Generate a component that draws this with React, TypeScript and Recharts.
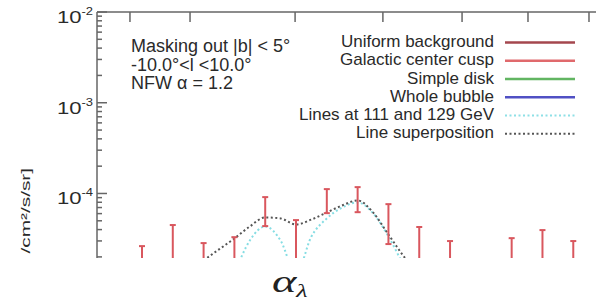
import { ComposedChart, Line, Scatter, ErrorBar, XAxis, YAxis } from "recharts";

// energy bins (bin index) and the flux band of each error bar
const binK = [1, 2, 3, 4, 5, 6, 7, 8, 9, 10, 11, 12, 13, 14, 15];
const binHigh = [2.63e-5, 4.49e-5, 2.84e-5, 3.3e-5, 9.12e-5, 5.09e-5, 1.117e-4, 1.175e-4, 7.63e-5, 4.27e-5, 2.99e-5, 1.6e-5, 3.22e-5, 3.95e-5, 2.99e-5];
const binLow = [1.2e-5, 1.6e-5, 1.2e-5, 1.5e-5, 4.37e-5, 1.8e-5, 6.07e-5, 6.22e-5, 2.77e-5, 1.5e-5, 1.2e-5, 6e-6, 1.2e-5, 1.4e-5, 1.1e-5];

// line superposition (dark dotted)
const superK = [3, 3.5, 4, 4.5, 5, 5.5, 6, 6.5, 7, 7.5, 8, 8.5, 9, 9.5, 10];
const superV = [1.83e-5, 2.42e-5, 3.19e-5, 4.33e-5, 5.44e-5, 5.31e-5, 4.55e-5, 5.16e-5, 6.18e-5, 7.38e-5, 8.38e-5, 6.18e-5, 3.53e-5, 2.02e-5, 1.25e-5];

// lines at 111 and 129 GeV (cyan dotted)
const linesK = [4, 4.5, 5, 5.5, 6, 6.5, 7, 7.5, 8, 8.5, 9, 9.5, 10];
const linesV = [1.3e-5, 3.03e-5, 4.33e-5, 3.03e-5, 1.3e-5, 3.36e-5, 5.31e-5, 7.01e-5, 7.96e-5, 6.06e-5, 3.36e-5, 1.6e-5, 8e-6];

const yTicks = [1e-2, 9e-3, 8e-3, 7e-3, 6e-3, 5e-3, 4e-3, 3e-3, 2e-3, 1e-3, 9e-4, 8e-4, 7e-4, 6e-4, 5e-4, 4e-4, 3e-4, 2e-4, 1e-4, 9e-5, 8e-5, 7e-5, 6e-5, 5e-5, 4e-5, 3e-5, 2e-5];
const topTicks = [0.61, 2.56, 5.97, 8.82, 11.39, 13.53, 15.51];

const notes = ["Masking out |b| < 5°", "-10.0°<l <10.0°", "NFW α = 1.2"];
const legendNames = ["Uniform background", "Galactic center cusp", "Simple disk", "Whole bubble", "Lines at 111 and 129 GeV", "Line superposition"];
const legendColors = ["#a4474e", "#e0696c", "#62b562", "#5050c4", "#8ee0e6", "#555555"];
const legendDotted = [false, false, false, false, true, true];

const axisColor = "#666";
const font = "'Liberation Sans', Arial, sans-serif";

const binData = binK.map((k, i) => {
    const v = Math.sqrt(binLow[i] * binHigh[i]);
    return { k, v, err: [v - binLow[i], binHigh[i] - v] };
});
const superData = superK.map((k, i) => ({ k, v: superV[i] }));
const linesData = linesK.map((k, i) => ({ k, v: linesV[i] }));

const YTick = ({ x, y, payload, side }: any) => {
    const lg = Math.log10(payload.value);
    const e = Math.round(lg);
    const major = Math.abs(lg - e) < 1e-6;
    const dir = side === "right" ? -1 : 1;
    return (
        <g>
            <line x1={x} y1={y} x2={x + dir * (major ? 10 : 5)} y2={y} stroke={axisColor} strokeWidth={1.5} />
            {major && side !== "right" && (
                <text transform={`translate(${x - 4},${y + 11}) scale(1.3,1)`} textAnchor="end" fontFamily={font} fontSize={17} fill="#2a2a2a">
                    10<tspan dy={-8} fontSize={10}>{e}</tspan>
                </text>
            )}
        </g>
    );
};

const TopTick = ({ x, y }: any) => (
    <line x1={x} y1={y} x2={x} y2={y + 10} stroke={axisColor} strokeWidth={1.5} />
);

// only the part of the axis title that lies above the crop line
const YLabel = () => (
    <text transform="translate(30,168) rotate(-90) scale(1.6,1)" textAnchor="end" fontFamily={font} fontSize={13} fill="#2a2a2a">
        /cm²/s/sr]
    </text>
);

const NoShape = () => <g />;

const Overlay = () => (
    <svg width={596} height={302} style={{ position: "absolute", left: 0, top: 0, pointerEvents: "none" }}>
        {notes.map((t, i) => (
            <text key={t} x={131} y={52 + i * 18.7} fontFamily={font} fontSize={18} fill="#2a2a2a">{t}</text>
        ))}
        {legendNames.map((t, i) => {
            const base = 47 + i * 18.25;
            return (
                <g key={t}>
                    <text x={494} y={base} textAnchor="end" fontFamily={font} fontSize={17} fill="#2a2a2a">{t}</text>
                    <line x1={505} x2={575} y1={base - 4.5} y2={base - 4.5} stroke={legendColors[i]}
                        strokeWidth={legendDotted[i] ? 2 : 2.5} strokeDasharray={legendDotted[i] ? "2 2.5" : undefined} />
                </g>
            );
        })}
        <g transform="translate(272,292) scale(1.45,1)">
            <text fontFamily="'Liberation Serif', 'DejaVu Serif', serif" fontStyle="italic" fontSize={32} fill="#222">
                α<tspan dy={5} fontSize={18}>λ</tspan>
            </text>
        </g>
    </svg>
);

const App = () => {
    return (
        <div style={{ position: "absolute", left: 0, top: 0, width: 596, height: 302, background: "#fff" }}>
            <ComposedChart width={596} height={258} margin={{ top: 0, right: -5, bottom: 0, left: 0 }}>
                <XAxis
                    xAxisId="t"
                    orientation="top"
                    type="number"
                    dataKey="k"
                    domain={[-0.46, 15.9]}
                    allowDataOverflow
                    ticks={topTicks}
                    height={12}
                    tickSize={0}
                    tickMargin={0}
                    axisLine={{ stroke: axisColor, strokeWidth: 1.5 }}
                    tickLine={false}
                    tick={<TopTick />}
                    interval={0}
                />
                <YAxis
                    yAxisId="l"
                    scale="log"
                    domain={[1.945e-5, 1e-2]}
                    allowDataOverflow
                    ticks={yTicks}
                    interval={0}
                    width={97}
                    tickSize={0}
                    tickMargin={0}
                    axisLine={{ stroke: axisColor, strokeWidth: 1.5 }}
                    tickLine={false}
                    tick={<YTick side="left" />}
                    label={<YLabel />}
                />
                <YAxis
                    yAxisId="r"
                    orientation="right"
                    scale="log"
                    domain={[1.945e-5, 1e-2]}
                    allowDataOverflow
                    ticks={yTicks}
                    interval={0}
                    width={0}
                    tickSize={0}
                    tickMargin={0}
                    axisLine={false}
                    tickLine={false}
                    tick={<YTick side="right" />}
                />
                <Line
                    xAxisId="t"
                    yAxisId="l"
                    data={linesData}
                    dataKey="v"
                    type="monotone"
                    stroke="#86dde3"
                    strokeWidth={2}
                    strokeDasharray="2 2.5"
                    dot={false}
                    isAnimationActive={false}
                />
                <Line
                    xAxisId="t"
                    yAxisId="l"
                    data={superData}
                    dataKey="v"
                    type="monotone"
                    stroke="#555"
                    strokeWidth={2}
                    strokeDasharray="2 2.5"
                    dot={false}
                    isAnimationActive={false}
                />
                <Scatter xAxisId="t" yAxisId="l" data={binData} dataKey="v" shape={<NoShape />} isAnimationActive={false}>
                    <ErrorBar dataKey="err" direction="y" width={3} stroke="#d9575e" strokeWidth={2} isAnimationActive={false} />
                </Scatter>
            </ComposedChart>
            <Overlay />
        </div>
    );
};

export default App;
